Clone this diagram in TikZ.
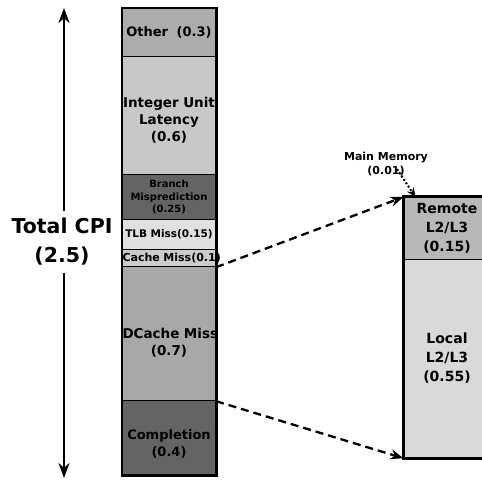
\documentclass[tikz,border=0pt]{standalone}
\usepackage{fontspec}
\setmainfont{DejaVu Sans}
\usetikzlibrary{arrows.meta}
\definecolor{otherc}{HTML}{ACACAC}
\definecolor{intc}{HTML}{C8C8C8}
\definecolor{brc}{HTML}{646464}
\definecolor{tlbc}{HTML}{E0E0E0}
\definecolor{cachec}{HTML}{CCCCCC}
\definecolor{dcachec}{HTML}{A8A8A8}
\definecolor{complc}{HTML}{646464}
\definecolor{remotec}{HTML}{B8B8B8}
\definecolor{localc}{HTML}{D9D9D9}

\begin{document}
\begin{tikzpicture}[x=1pt,y=-1pt]
  \tikzstyle{every node}+=[inner sep=0pt]
  \tikzstyle{seg}=[draw=black, line width=1.2pt, anchor=north, align=center, text width=93pt]
  \tikzstyle{rseg}=[draw=black, line width=1.2pt, anchor=north, align=center, text width=86pt]
  \tikzstyle{jump}=[dash pattern=on 8pt off 5pt, line width=2.3pt, -{Stealth[length=13pt,width=10pt]}]
  \useasboundingbox (0,0) rectangle (482,481);
  \fill [white] (0,0) rectangle (482,481);
  \node [seg, fill=otherc, minimum height=48pt, font=\bfseries\fontsize{13}{15}\selectfont] (other) at (169,8) {Other\ \ (0.3)};
  \node [seg, fill=intc, minimum height=118pt, font=\bfseries\fontsize{13.5}{17}\selectfont] (intu) at (169,56) {\rule{0pt}{20pt}\mbox{Integer Unit}\\Latency\\(0.6)};
  \node [seg, fill=brc, minimum height=45pt, font=\bfseries\fontsize{10}{12.5}\selectfont] (branch) at (169,174) {Branch\\Misprediction\\(0.25)};
  \node [seg, fill=tlbc, minimum height=30pt, font=\bfseries\fontsize{10.5}{12}\selectfont] (tlb) at (169,219) {TLB Miss(0.15)};
  \node [seg, fill=cachec, minimum height=17pt, font=\bfseries\fontsize{11}{12}\selectfont] (cache) at (169,249) {\mbox{Cache Miss(0.1)}};
  \node [seg, fill=dcachec, minimum height=134pt, font=\bfseries\fontsize{13.5}{17}\selectfont] (dcache) at (169,266) {\rule{0pt}{28pt}\mbox{DCache Miss}\\(0.7)};
  \node [seg, fill=complc, minimum height=74pt, font=\bfseries\fontsize{13}{17}\selectfont] (compl) at (169,400) {\rule{0pt}{22pt}Completion\\(0.4)};
  \draw [line width=2.8pt] (other.north west) rectangle (compl.south east);

  \node [rseg, fill=remotec, minimum height=62pt, font=\bfseries\fontsize{14}{19}\selectfont] (remote) at (447,197) {Remote\\L2/L3\\(0.15)};
  \node [rseg, fill=localc, minimum height=198pt, font=\bfseries\fontsize{14}{19}\selectfont] (local) at (447,259) {Local\\L2/L3\\(0.55)};
  \draw [line width=3pt] (remote.north west) rectangle (local.south east);

  \node [align=center, font=\bfseries\fontsize{11}{14}\selectfont] (mm) at (386,164) {Main Memory\\(0.01)};
  \draw [jump] (cache.south east) -- (remote.north west);
  \draw [jump] (dcache.south east) -- (local.south west);
  \draw [dotted, line width=2pt, -{Stealth[length=9pt,width=8pt]}] ([xshift=11pt,yshift=7pt]mm.south) -- ([xshift=12pt]remote.north west);

  \node [align=center, font=\bfseries\fontsize{20.5}{29}\selectfont] (cpi) at (62,242) {Total CPI\\(2.5)};
  \coordinate (cputop) at (64,8);
  \coordinate (cpubot) at (64,478);
  \draw [line width=2.5pt, -{Stealth[length=15pt,width=11pt]}] ([xshift=2pt,yshift=7pt]cpi.north) -- (cputop);
  \draw [line width=2.5pt, -{Stealth[length=15pt,width=11pt]}] ([xshift=2pt,yshift=-7pt]cpi.south) -- (cpubot);
\end{tikzpicture}
\end{document}
